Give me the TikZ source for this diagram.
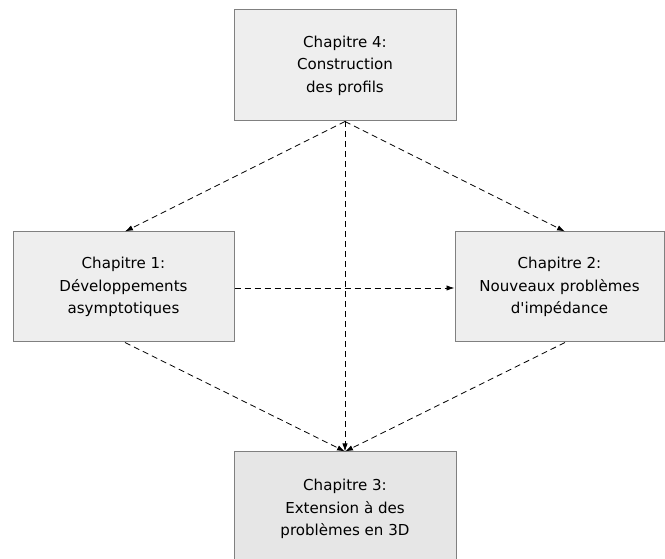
\documentclass[tikz,border=0pt]{standalone}
\usepackage{fontspec}
\setmainfont{DejaVu Sans}
\usetikzlibrary{arrows.meta}
\definecolor{boxfill}{HTML}{EEEEEE}
\definecolor{boxfilldark}{HTML}{E6E6E6}
\definecolor{boxline}{HTML}{808080}
\begin{document}
\begin{tikzpicture}[x=0.75pt,y=-0.75pt,
  chapbox/.style={draw=boxline, line width=0.75pt, fill=boxfill, align=center,
    inner sep=0pt, font=\fontsize{11.3}{16.9}\selectfont},
  link/.style={dashed, dash pattern=on 4.5pt off 3pt, line width=0.6pt,
    -{Latex[length=6pt,width=4pt]}}]
\clip (0,0) rectangle (665,559);
\node[chapbox, minimum width=222*0.75pt, minimum height=111*0.75pt] (c4) at (345,65.5)
  {Chapitre 4:\\Construction\\des profils};
\node[chapbox, minimum width=221*0.75pt, minimum height=110*0.75pt] (c1) at (123.5,287)
  {Chapitre 1:\\Développements\\asymptotiques};
\node[chapbox, minimum width=209*0.75pt, minimum height=110*0.75pt] (c2) at (559.5,287)
  {Chapitre 2:\\Nouveaux problèmes\\d\textquotesingle impédance};
\node[chapbox, fill=boxfilldark, minimum width=222*0.75pt, minimum height=111*0.75pt,
  text depth=0pt] (c3) at (345,507.5)
  {Chapitre 3:\\Extension à des\\problèmes en 3D};
\draw[link] (c4.south) -- ([xshift=1.1pt]c1.north);
\draw[link] (c4.south) -- ([xshift=4.1pt]c2.north);
\draw[link] (c4.south) -- (c3.north);
\draw[link] ([xshift=1.1pt]c1.south) -- (c3.north);
\draw[link] ([xshift=4.1pt]c2.south) -- (c3.north);
\draw[link] ([yshift=-0.75pt]c1.east) -- ([yshift=-0.75pt]c2.west);
\end{tikzpicture}
\end{document}
